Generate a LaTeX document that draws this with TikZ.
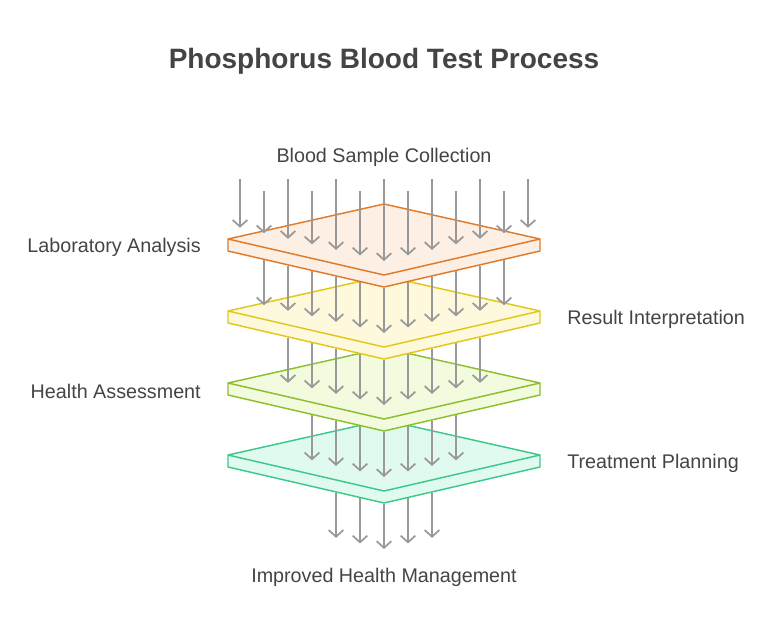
\documentclass[tikz,border=0pt]{standalone}
\usepackage{fontspec}
\setmainfont{Liberation Sans}
\usetikzlibrary{arrows.meta}
\definecolor{txt}{HTML}{444444}
\definecolor{arr}{HTML}{999999}
\definecolor{s1}{HTML}{E07B2A}\definecolor{f1}{HTML}{FDEFE3}
\definecolor{s2}{HTML}{E0C81A}\definecolor{f2}{HTML}{FEF9DC}
\definecolor{s3}{HTML}{8DBF2E}\definecolor{f3}{HTML}{F2FBDD}
\definecolor{s4}{HTML}{3CC98A}\definecolor{f4}{HTML}{E0FAF0}
\tikzset{flow/.style={draw=arr,line width=1.3pt,-{Straight Barb[length=5pt,width=11pt]}},
lbl/.style={text=txt,inner sep=0pt,font=\fontsize{14.8}{17}\selectfont}}
\newcommand{\layer}[3]{% dy, stroke, fill
 \begin{scope}[shift={(0,#1)}]
 \filldraw[draw=#2,fill=#3,line width=1.1pt,line join=round] (384,204)--(540,239)--(540,251)--(384,287)--(228,251)--(228,239)--cycle;
 \draw[#2,line width=1.1pt,line join=round] (228,239)--(384,275)--(540,239);
 \end{scope}}
\newcommand{\arrows}[3]{% k, first index, last index
 \foreach \i in {#2,...,#3}{
  \pgfmathsetmacro\xx{240+24*\i}
  \pgfmathsetmacro\dd{abs(\xx-384)}
  \pgfmathsetmacro\ty{275+72*#1-\dd*36/156-14}
  \ifnum#1=0
   \pgfmathsetmacro\sy{ifthenelse(mod(\i,2)==0,179,191)}
  \else
   \pgfmathsetmacro\sy{287+72*(#1-1)-\dd*36/156+1}
  \fi
  \draw[flow] (\xx,\sy)--(\xx,\ty);
 }}
\begin{document}
\begin{tikzpicture}[x=0.75pt,y=-0.75pt]
\useasboundingbox (0,0) rectangle (780,636);
\node[text=txt,font=\fontsize{21}{25}\selectfont\bfseries] (title) at (384,61) {Phosphorus Blood Test Process};
\arrows{4}{4}{8}
\layer{216}{s4}{f4}\arrows{3}{3}{9}
\layer{144}{s3}{f3}\arrows{2}{2}{10}
\layer{72}{s2}{f2}\arrows{1}{1}{11}
\layer{0}{s1}{f1}\arrows{0}{0}{12}
\node[lbl] (top) at (384,157) {Blood Sample Collection};
\node[lbl,anchor=east] (l1) at (201,247) {Laboratory Analysis};
\node[lbl,anchor=west] (l2) at (567,319) {Result Interpretation};
\node[lbl,anchor=east] (l3) at (201,391) {Health Assessment};
\node[lbl,anchor=west] (l4) at (567,463) {Treatment Planning};
\node[lbl] (bot) at (384,577) {Improved Health Management};
\end{tikzpicture}
\end{document}
